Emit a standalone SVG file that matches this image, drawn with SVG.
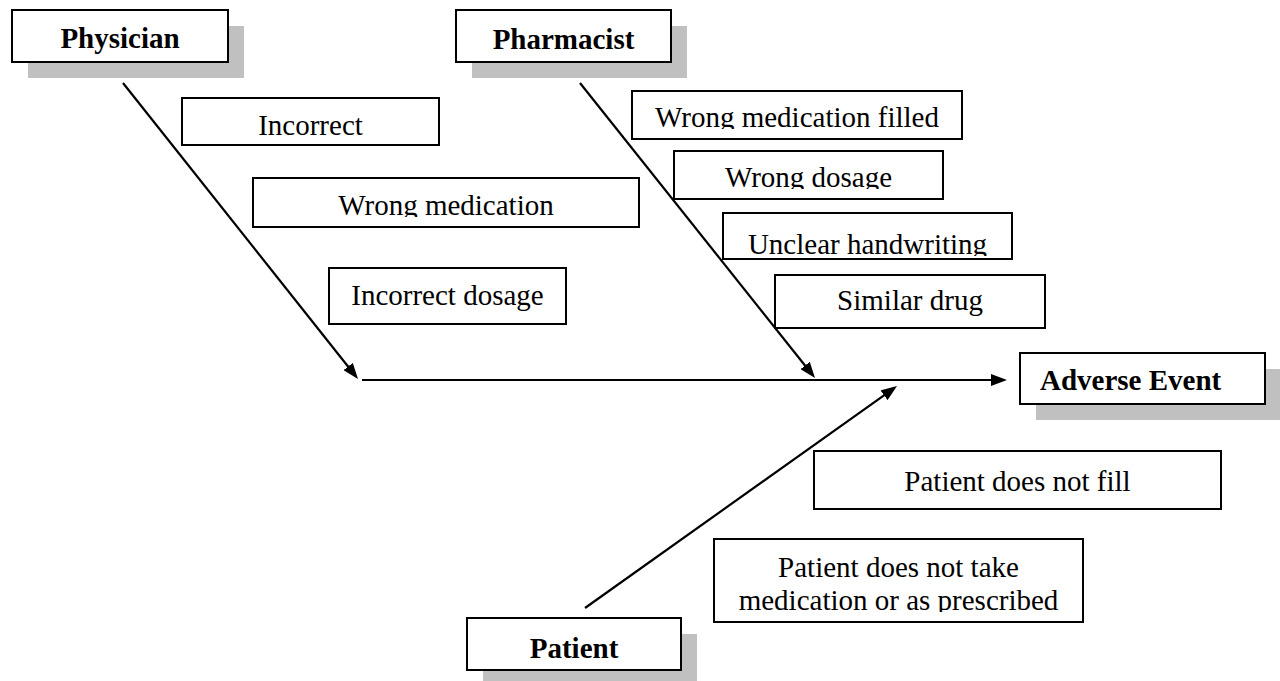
<svg xmlns="http://www.w3.org/2000/svg" width="1280" height="681" viewBox="0 0 1280 681">
<style>
.bg{fill:#ffffff}
.shadow{fill:#c0c0c0;stroke:none}
.box{fill:#ffffff;stroke:#000000;stroke-width:2}
.cat{font-family:"Liberation Serif","Times New Roman",serif;font-size:29px;font-weight:bold;fill:#000000}
.lbl{font-family:"Liberation Serif","Times New Roman",serif;font-size:29px;fill:#000000;text-anchor:middle}
.line{stroke:#000000;stroke-width:2.2;fill:none;marker-end:url(#arrow)}
</style>
<defs>
<marker id="arrow" markerUnits="userSpaceOnUse" markerWidth="16" markerHeight="12" refX="6" refY="6" orient="auto">
<path d="M0,0 L16,6 L0,12 z" fill="#000000"/>
</marker>
<clipPath id="c-wm"><rect x="253" y="178" width="386" height="39"/></clipPath>
<clipPath id="c-wmf"><rect x="632" y="91" width="330" height="38"/></clipPath>
<clipPath id="c-wd"><rect x="674" y="151" width="269" height="38"/></clipPath>
<clipPath id="c-uh"><rect x="723" y="213" width="289" height="43"/></clipPath>
<clipPath id="c-pt"><rect x="714" y="539" width="369" height="73"/></clipPath>
</defs>
<rect class="bg" x="0" y="0" width="1280" height="681"/>

<g id="connectors">
<line class="line" x1="123" y1="83" x2="351.8" y2="371.2"/>
<line class="line" x1="580" y1="83" x2="808.8" y2="370.2"/>
<line class="line" x1="585" y1="608" x2="888.9" y2="391.8"/>
<line class="line" x1="362" y1="380" x2="997" y2="380"/>
</g>

<g id="physician">
<rect class="shadow" x="28" y="26" width="216" height="52"/>
<rect class="box" x="12" y="10" width="216" height="52"/>
<text class="cat" x="120" y="48" text-anchor="middle">Physician</text>
</g>

<g id="pharmacist">
<rect class="shadow" x="472" y="26" width="215" height="52"/>
<rect class="box" x="456" y="10" width="215" height="52"/>
<text class="cat" x="563.5" y="49" text-anchor="middle">Pharmacist</text>
</g>

<g id="adverse-event">
<rect class="shadow" x="1036" y="369" width="250" height="51"/>
<rect class="box" x="1020" y="353" width="245" height="51"/>
<text class="cat" x="1040" y="390">Adverse Event</text>
</g>

<g id="patient">
<rect class="shadow" x="483" y="634" width="214" height="52"/>
<rect class="box" x="467" y="618" width="214" height="52"/>
<text class="cat" x="574" y="658" text-anchor="middle">Patient</text>
</g>

<g id="incorrect">
<rect class="box" x="182" y="98" width="257" height="47"/>
<text class="lbl" x="310.5" y="135">Incorrect</text>
</g>

<g id="wrong-medication">
<rect class="box" x="253" y="178" width="386" height="49"/>
<text class="lbl" x="446" y="215" clip-path="url(#c-wm)">Wrong medication</text>
</g>

<g id="incorrect-dosage">
<rect class="box" x="329" y="268" width="237" height="56"/>
<text class="lbl" x="447.5" y="305">Incorrect dosage</text>
</g>

<g id="wrong-medication-filled">
<rect class="box" x="632" y="91" width="330" height="48"/>
<text class="lbl" x="797" y="127" clip-path="url(#c-wmf)">Wrong medication filled</text>
</g>

<g id="wrong-dosage">
<rect class="box" x="674" y="151" width="269" height="48"/>
<text class="lbl" x="808.5" y="187" clip-path="url(#c-wd)">Wrong dosage</text>
</g>

<g id="unclear-handwriting">
<rect class="box" x="723" y="213" width="289" height="46"/>
<text class="lbl" x="867.5" y="254" clip-path="url(#c-uh)">Unclear handwriting</text>
</g>

<g id="similar-drug">
<rect class="box" x="775" y="275" width="270" height="53"/>
<text class="lbl" x="910" y="310">Similar drug</text>
</g>

<g id="patient-does-not-fill">
<rect class="box" x="814" y="451" width="407" height="58"/>
<text class="lbl" x="1017.5" y="491">Patient does not fill</text>
</g>

<g id="patient-does-not-take">
<rect class="box" x="714" y="539" width="369" height="83"/>
<text class="lbl" x="898.5" y="577">Patient does not take</text>
<text class="lbl" x="898.5" y="610" clip-path="url(#c-pt)">medication or as prescribed</text>
</g>
</svg>
